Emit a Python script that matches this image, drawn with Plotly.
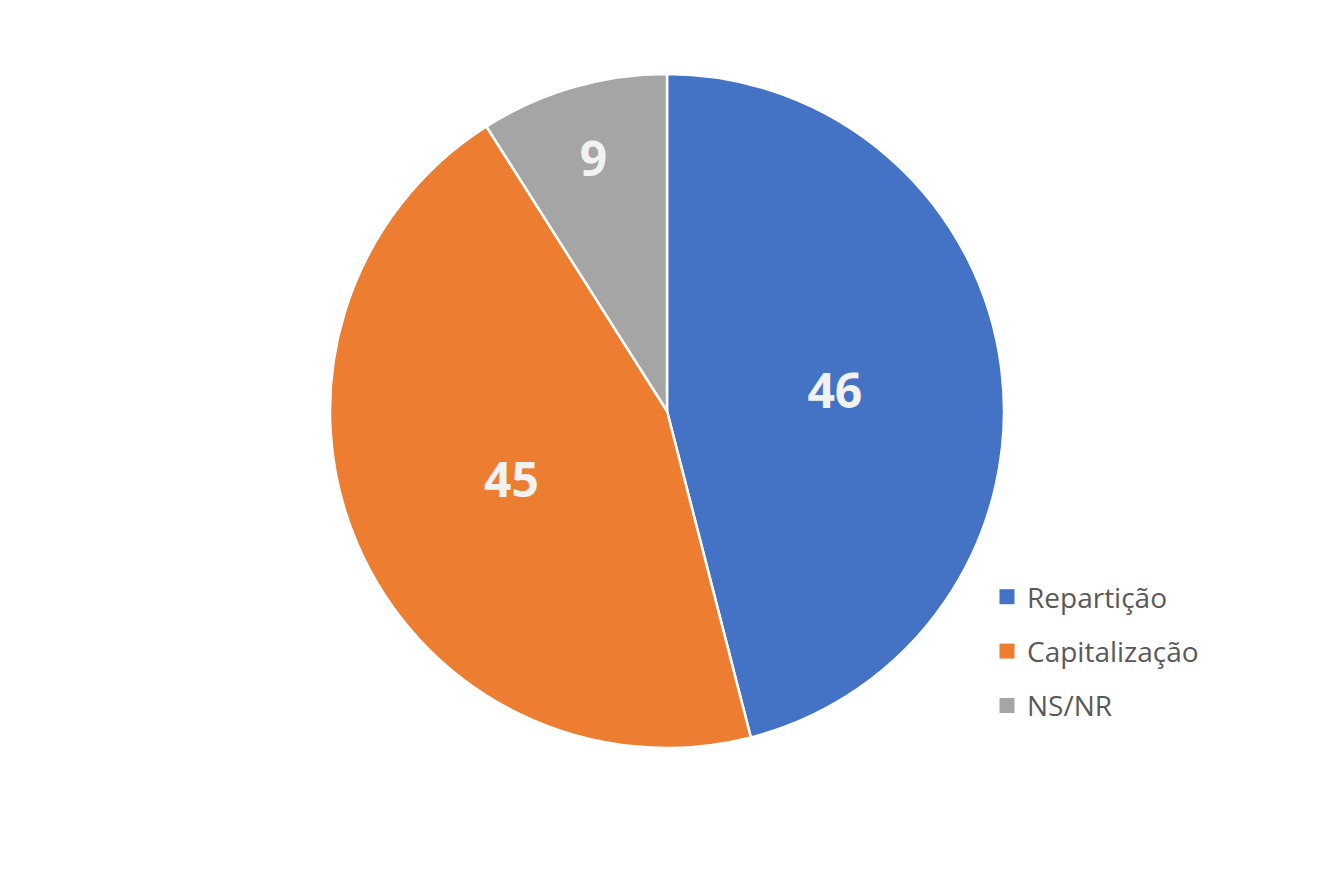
import plotly.graph_objects as go

labels = ["Repartição", "Capitalização", "NS/NR"]
values = [46, 45, 9]
colors = ["#4472C4", "#ED7D31", "#A5A5A5"]

W, H = 1334, 889
cx, cy, r = 659, 403, 337

fig = go.Figure()
fig.add_trace(go.Pie(
    labels=labels,
    values=values,
    sort=False,
    direction="clockwise",
    rotation=0,
    marker=dict(colors=colors, line=dict(color="white", width=2.5)),
    textinfo="value",
    textposition="inside",
    insidetextorientation="horizontal",
    textfont=dict(family="Open Sans", size=48, color="#F2F2F2", weight="bold"),
    domain=dict(x=[(cx - r) / W, (cx + r) / W], y=[(H - cy - r) / H, (H - cy + r) / H]),
    hoverinfo="label+value",
    showlegend=False,
))

# legend entries (square swatches) matching the slices
for lab, col in zip(labels, colors):
    fig.add_trace(go.Scatter(
        x=[None], y=[None], mode="markers", name=lab,
        marker=dict(symbol="square", size=15, color=col),
        legendgroup=lab, showlegend=True, hoverinfo="skip",
    ))

fig.update_layout(
    width=W, height=H,
    margin=dict(l=0, r=0, t=0, b=0),
    paper_bgcolor="white",
    plot_bgcolor="white",
    xaxis=dict(visible=False),
    yaxis=dict(visible=False),
    uniformtext=dict(minsize=48, mode="show"),
    legend=dict(
        x=979 / W, y=1 - 564 / H, xanchor="left", yanchor="top",
        font=dict(family="Open Sans", size=28, color="#595959"),
        itemwidth=30, tracegroupgap=15,
        bgcolor="rgba(0,0,0,0)",
    ),
)

fig.write_html("out.html")
